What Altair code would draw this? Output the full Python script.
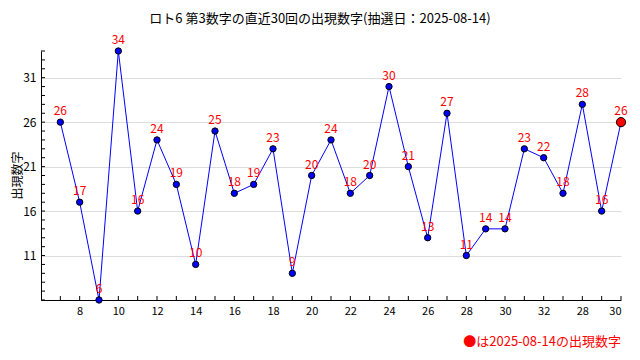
import altair as alt
import pandas as pd

title_text = "ロト6 第3数字の直近30回の出現数字(抽選日：2025-08-14)"
y_title = "出現数字"
legend_text = "●は2025-08-14の出現数字"

draw_index = list(range(1, 31))
values = [26, 17, 6, 34, 16, 24, 19, 10, 25, 18, 19, 23, 9, 20, 24, 18, 20, 30, 21, 13,
          27, 11, 14, 14, 23, 22, 18, 28, 16, 26]
tick_positions = list(range(2, 31, 2))
tick_labels = ["8", "10", "12", "14", "16", "18", "20", "22", "24", "26", "28", "30", "32", "28", "30"]
y_ticks = [11, 16, 21, 26, 31]
y_minor = list(range(6, 35))

FONT = "Noto Sans CJK JP"
W, H = 580, 249

df = pd.DataFrame({"i": draw_index, "v": values})
df["last"] = [k == len(values) - 1 for k in range(len(values))]

label_map = "{" + ",".join(f"'{p}':'{l}'" for p, l in zip(tick_positions, tick_labels)) + "}"

xs = alt.Scale(domain=[0, 30], nice=False, zero=False)
ys = alt.Scale(domain=[6, 34], nice=False, zero=False)

x_axis = alt.Axis(values=tick_positions, labelExpr=f"{label_map}[''+datum.value]", title=None,
                  grid=False, ticks=False, domainColor="black", labelColor="black",
                  labelFont=FONT, labelFontSize=11, labelPadding=5)
y_axis = alt.Axis(values=y_ticks, title=None, grid=True, gridColor="#dddddd", ticks=False,
                  domainColor="black", labelColor="black", labelFont=FONT, labelFontSize=12,
                  labelPadding=5)

base = alt.Chart(df)

line = base.mark_line(color="#0000ff", strokeWidth=1).encode(
    x=alt.X("i:Q", scale=xs, axis=x_axis),
    y=alt.Y("v:Q", scale=ys, axis=y_axis),
)

pts = base.transform_filter("!datum.last").mark_point(
    shape="circle", filled=True, fill="#0000ff", stroke="black", strokeWidth=1, size=40, opacity=1
).encode(x=alt.X("i:Q", scale=xs), y=alt.Y("v:Q", scale=ys))

last_pt = base.transform_filter("datum.last").mark_point(
    shape="circle", filled=True, fill="#ff0000", stroke="black", strokeWidth=1, size=85, opacity=1
).encode(x=alt.X("i:Q", scale=xs), y=alt.Y("v:Q", scale=ys))

labels = base.mark_text(color="#ff0000", font=FONT, fontSize=12, dy=-11, baseline="middle").encode(
    x=alt.X("i:Q", scale=xs), y=alt.Y("v:Q", scale=ys), text="v:Q"
)

xt = alt.Chart(pd.DataFrame({"i": draw_index})).mark_rule(color="black", strokeWidth=1).encode(
    x=alt.X("i:Q", scale=xs), y=alt.value(H - 4), y2=alt.value(H)
)
yt = alt.Chart(pd.DataFrame({"v": y_minor})).mark_rule(color="black", strokeWidth=1).encode(
    y=alt.Y("v:Q", scale=ys), x=alt.value(0), x2=alt.value(4)
)

legend = alt.Chart(pd.DataFrame({"t": [legend_text]})).mark_text(
    color="#ff0000", font=FONT, fontSize=13, align="right", baseline="middle"
).encode(x=alt.value(W), y=alt.value(H + 42), text="t:N")

title = alt.Chart(pd.DataFrame({"t": [title_text]})).mark_text(
    color="black", font=FONT, fontSize=13, align="center", baseline="middle"
).encode(x=alt.value(W / 2 - 11), y=alt.value(-32.5), text="t:N")

ytitle = alt.Chart(pd.DataFrame({"t": [y_title]})).mark_text(
    color="black", font=FONT, fontSize=12, align="center", baseline="middle", angle=270
).encode(x=alt.value(-23), y=alt.value(H / 2), text="t:N")

chart = alt.layer(line, xt, yt, pts, last_pt, labels, legend, title, ytitle).properties(
    width=W, height=H,
    autosize=alt.AutoSizeParams(type="none"),
    padding={"left": 33, "top": 43, "right": 11, "bottom": 52},
    background="white",
).configure_view(stroke=None)

chart.save("out.html", embed_options={"renderer": "svg", "actions": False})
